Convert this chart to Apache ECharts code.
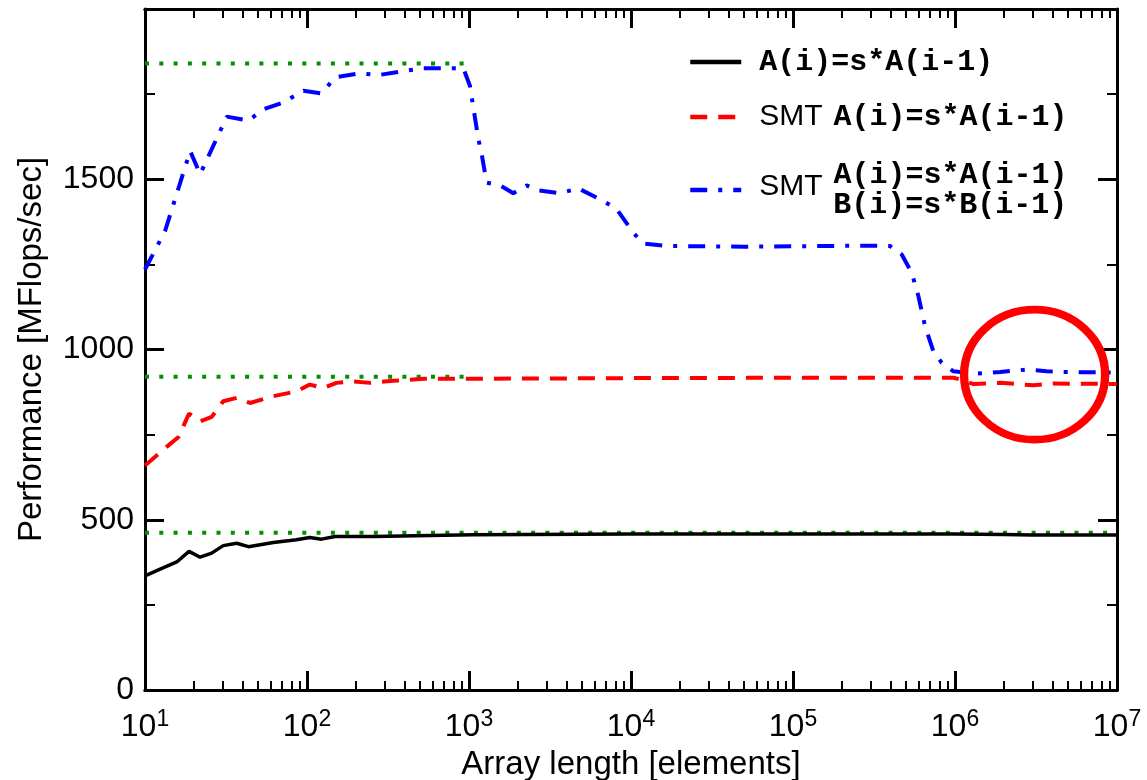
<!DOCTYPE html>
<html>
<head>
<meta charset="utf-8">
<title>Recurrence performance</title>
<script src="https://cdn.jsdelivr.net/npm/echarts@6/dist/echarts.min.js"></script>
<style>
  html, body { margin: 0; padding: 0; background: #fff; }
  #main { width: 1147px; height: 780px; }
</style>
</head>
<body>
<div id="main"></div>
<script>
// values: array length -> MFlops/sec

const scalarSize = [10, 12.4, 15.7, 18.7, 21.9, 25.8, 30.4, 36.8, 43.5, 62, 86, 104, 123, 149, 257, 1064, 1e4, 1e5, 1e6, 2e6, 3e6, 1e7];
const scalarPerf = [335, 355, 376, 407, 390, 402, 424, 431, 421, 433, 441, 448, 443, 451, 451, 456, 458, 458, 458, 457, 455, 455];

const smtSize = [10, 13.6, 16.1, 18.7, 21.9, 25.8, 30.4, 36.8, 44.5, 62, 86, 104, 126, 152, 193, 245, 341, 522, 1064, 1e4, 1e5, 9.8e5, 1.07e6, 1.29e6, 1.9e6, 3.04e6, 4.04e6, 8.2e6, 1e7];
const smtPerf = [659, 714, 743, 812, 789, 802, 848, 858, 843, 863, 877, 897, 887, 902, 906, 902, 908, 914, 914, 916, 917, 917, 912, 899, 902, 895, 900, 899, 899];

const smt2Size = [10, 13.3, 19, 21.9, 32, 43.5, 54, 71, 95, 123, 149, 212, 276, 412, 520, 923, 1014, 1140, 1197, 1285, 1553, 1878, 2270, 2617, 3650, 4731, 6760, 8170, 10330, 11900, 16600, 5e4, 1e5, 2.6e5, 3.97e5, 4.69e5, 5.41e5, 5.94e5, 6.53e5, 7.35e5, 8.28e5, 9.77e5, 1.36e6, 1.9e6, 2.77e6, 3.68e6, 5.37e6, 8.2e6, 1e7];
const smt2Perf = [1235, 1348, 1583, 1515, 1684, 1672, 1706, 1725, 1760, 1752, 1799, 1811, 1806, 1819, 1826, 1826, 1774, 1620, 1574, 1490, 1482, 1459, 1482, 1468, 1459, 1473, 1436, 1412, 1343, 1311, 1304, 1302, 1303, 1305, 1304, 1279, 1225, 1157, 1069, 995, 961, 936, 929, 934, 941, 936, 933, 933, 932];

// green dotted peak levels
const peakScalarX = [10, 1e7];
const peakScalar = 462;
const peakSmtX = [10, 1000];
const peakSmt = 920;
const peakSmt2X = [10, 1000];
const peakSmt2 = 1840;

// red ring around the large-array end
const highlightAt = [3.1e6, 926];

const yTicks = [0, 500, 1000, 1500];

const SANS = '"Liberation Sans", Arial, Helvetica, sans-serif';
const MONO = '"Liberation Mono", "DejaVu Sans Mono", monospace';

function pairs(xs, ys) {
  return xs.map((x, i) => [x, Array.isArray(ys) ? ys[i] : ys]);
}

// log minor tick positions 2..9 per decade
const minorX = [];
for (let d = 10; d < 1e7; d *= 10) {
  for (let k = 2; k < 10; k++) minorX.push(k * d);
}

function xAxisOf(pos, minor, withLabels) {
  return {
    type: 'log', logBase: 10, min: 10, max: 1e7, splitNumber: 6,
    position: pos,
    axisLine: { show: true, onZero: false, lineStyle: { color: '#000', width: 3 } },
    axisTick: minor
      ? { show: true, inside: true, length: 9, customValues: minorX, lineStyle: { color: '#000', width: 2 } }
      : { show: true, inside: true, length: 19, lineStyle: { color: '#000', width: 3 } },
    axisLabel: withLabels ? {
      show: true, margin: 18,
      formatter: v => '{b|10}{e|' + Math.round(Math.log10(v)) + '}',
      rich: {
        b: { fontSize: 32, fontFamily: SANS, color: '#000' },
        e: { fontSize: 23, fontFamily: SANS, color: '#000', padding: [0, 0, 16, 0] }
      }
    } : { show: false },
    splitLine: { show: false },
    minorTick: { show: false }
  };
}

function yAxisOf(pos, withLabels) {
  return {
    type: 'value', min: 0, max: 2000, interval: 500,
    position: pos,
    axisLine: { show: true, onZero: false, lineStyle: { color: '#000', width: 3 } },
    axisTick: { show: true, inside: true, length: 19, lineStyle: { color: '#000', width: 3 } },
    minorTick: { show: true, splitNumber: 2, length: 10, lineStyle: { color: '#000', width: 2 } },
    axisLabel: withLabels ? {
      show: true, margin: 11, fontSize: 32, fontFamily: SANS, color: '#000',
      formatter: v => (yTicks.indexOf(v) >= 0 ? String(v) : '')
    } : { show: false },
    splitLine: { show: false }
  };
}

const xMain = xAxisOf('bottom', false, true);
xMain.name = 'Array length [elements]';
xMain.nameLocation = 'middle';
xMain.nameGap = 54;
xMain.nameTextStyle = { fontSize: 33, fontFamily: SANS, color: '#000' };

const yMain = yAxisOf('left', true);
yMain.name = 'Performance [MFlops/sec]';
yMain.nameLocation = 'middle';
yMain.nameGap = 97;
yMain.nameTextStyle = { fontSize: 33, fontFamily: SANS, color: '#000' };

const legendText = {
  scalar: '{c1|A(i)=s*A(i-1)}',
  smt: '{s|SMT}{c|A(i)=s*A(i-1)}',
  smt2: '{s3|SMT}{c|A(i)=s*A(i-1)}\n{sp| }{c|B(i)=s*B(i-1)}'
};

const legendRich = {
  c1: { fontFamily: MONO, fontWeight: 'bold', fontSize: 30, lineHeight: 30, color: '#000', padding: [0, 0, 0, 13] },
  c: { fontFamily: MONO, fontWeight: 'bold', fontSize: 30, lineHeight: 30, color: '#000' },
  s: { fontFamily: SANS, fontSize: 30, lineHeight: 30, color: '#000', padding: [0, 11, 0, 13] },
  s3: { fontFamily: SANS, fontSize: 30, lineHeight: 30, color: '#000', padding: [24, 11, 0, 13] },
  sp: { fontFamily: SANS, fontSize: 30, lineHeight: 30, width: 87 }
};

function legendOf(names, top) {
  return {
    orient: 'vertical', left: 688, top: top, padding: 0, itemGap: 25,
    itemWidth: 51, itemHeight: 14, selectedMode: false,
    data: names,
    lineStyle: { width: 4.5 },
    itemStyle: { color: 'rgba(0,0,0,0)', borderColor: 'rgba(0,0,0,0)', borderWidth: 0 },
    formatter: name => legendText[name],
    textStyle: { color: '#000', lineHeight: 30, rich: legendRich }
  };
}

const green = '#009000';
const dotted = { color: green, width: 4, type: [4, 10.3], cap: 'butt' };

const options = {
  animation: false,
  backgroundColor: '#fff',
  grid: { left: 145, right: 30, top: 9, bottom: 90, containLabel: false, outerBoundsMode: 'none' },
  xAxis: [xMain, xAxisOf('bottom', true, false), xAxisOf('top', false, false), xAxisOf('top', true, false)],
  yAxis: [yMain, yAxisOf('right', false)],
  legend: [legendOf(['scalar', 'smt'], 47), legendOf(['smt2'], 148)],
  series: [
    { type: 'line', name: 'peak1', data: pairs(peakScalarX, peakScalar), symbol: 'none', silent: true, lineStyle: dotted, z: 1 },
    { type: 'line', name: 'peak2', data: pairs(peakSmtX, peakSmt), symbol: 'none', silent: true, lineStyle: dotted, z: 1 },
    { type: 'line', name: 'peak3', data: pairs(peakSmt2X, peakSmt2), symbol: 'none', silent: true, lineStyle: dotted, z: 1 },
    {
      type: 'line', name: 'scalar', data: pairs(scalarSize, scalarPerf), symbol: 'none',
      itemStyle: { color: '#000' }, lineStyle: { color: '#000', width: 3.5 }, z: 3
    },
    {
      type: 'line', name: 'smt', data: pairs(smtSize, smtPerf), symbol: 'none',
      itemStyle: { color: '#ff0000' }, lineStyle: { color: '#ff0000', width: 4, type: [17, 11], cap: 'butt' }, z: 3
    },
    {
      type: 'line', name: 'smt2', data: pairs(smt2Size, smt2Perf), symbol: 'none',
      itemStyle: { color: '#0000ff' }, lineStyle: { color: '#0000ff', width: 4, type: [17, 11, 4, 11], cap: 'butt' }, z: 3
    },
    {
      type: 'scatter', name: 'ring', data: [highlightAt], symbol: 'circle', symbolSize: [141, 130], silent: true,
      itemStyle: { color: 'rgba(0,0,0,0)', borderColor: '#ff0000', borderWidth: 8, opacity: 1 }, z: 5
    }
  ]
};

let myChart = echarts.init(document.getElementById('main'));
myChart.setOption(options);
</script>
</body>
</html>
